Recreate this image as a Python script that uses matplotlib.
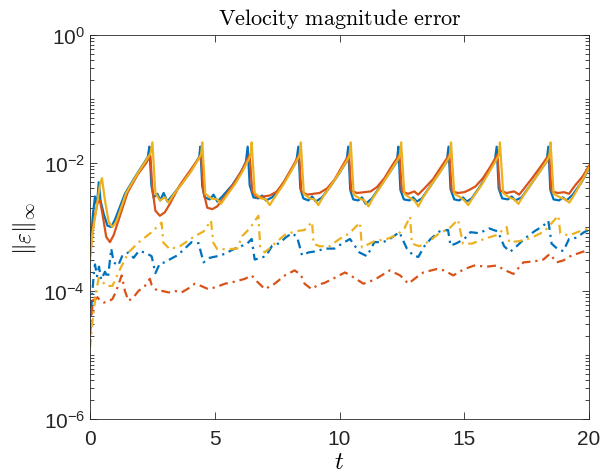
import matplotlib
matplotlib.use("Agg")
import matplotlib.pyplot as plt
import numpy as np
from matplotlib.ticker import LogLocator, FixedLocator

plt.rcParams['font.family'] = ['Liberation Sans', 'DejaVu Sans']
plt.rcParams['mathtext.fontset'] = 'custom'
plt.rcParams['mathtext.rm'] = 'Liberation Sans'
plt.rcParams['mathtext.it'] = 'Liberation Sans:italic'

# solid lines
ys_t = [0.00, 0.10, 0.25, 0.40, 0.48, 0.60, 0.75, 0.90, 1.05, 1.45, 1.85, 2.25, 2.42, 2.50,
        2.62, 2.80, 3.00, 3.15, 3.35, 3.70, 4.05, 4.35, 4.45, 4.50,
        4.62, 4.85, 5.10, 5.25, 5.45, 5.80, 6.10, 6.35, 6.43, 6.48,
        6.60, 6.85, 7.05, 7.20, 7.40, 7.75, 8.05, 8.32, 8.40, 8.45,
        8.57, 8.80, 9.00, 9.15, 9.35, 9.70, 10.05, 10.33, 10.40, 10.45,
        10.57, 10.80, 11.00, 11.16, 11.35, 11.70, 12.05, 12.35, 12.42, 12.47,
        12.60, 12.85, 13.00, 13.16, 13.35, 13.70, 14.05, 14.35, 14.42, 14.47,
        14.60, 14.85, 15.00, 15.16, 15.35, 15.70, 16.00, 16.30, 16.38, 16.43,
        16.56, 16.80, 17.00, 17.17, 17.35, 17.70, 18.05, 18.35, 18.41, 18.46,
        18.58, 18.85, 19.05, 19.21, 19.45, 19.75, 20.00]
ys_v = [3.2e-4, 8.0e-4, 1.9e-3, 4.6e-3, 5.8e-3, 2.6e-3, 1.2e-3, 1.0e-3, 1.2e-3, 3.4e-3, 6.3e-3, 1.1e-2, 1.4e-2, 2.1e-2,
        3.4e-3, 2.6e-3, 2.9e-3, 2.4e-3, 3.2e-3, 4.8e-3, 7.4e-3, 1.15e-2, 1.35e-2, 2.1e-2,
        3.3e-3, 2.8e-3, 2.7e-3, 2.3e-3, 3.0e-3, 4.6e-3, 7.2e-3, 1.12e-2, 1.3e-2, 2.1e-2,
        3.4e-3, 2.8e-3, 2.7e-3, 2.2e-3, 2.9e-3, 4.6e-3, 7.3e-3, 1.15e-2, 1.3e-2, 2.1e-2,
        3.3e-3, 2.8e-3, 2.7e-3, 2.2e-3, 3.0e-3, 4.7e-3, 7.6e-3, 1.15e-2, 1.3e-2, 2.1e-2,
        3.2e-3, 2.8e-3, 2.6e-3, 2.1e-3, 2.9e-3, 4.6e-3, 7.5e-3, 1.15e-2, 1.3e-2, 2.1e-2,
        3.3e-3, 2.8e-3, 2.6e-3, 2.1e-3, 2.9e-3, 4.7e-3, 7.4e-3, 1.15e-2, 1.3e-2, 2.1e-2,
        3.3e-3, 2.9e-3, 2.6e-3, 2.2e-3, 2.9e-3, 4.6e-3, 7.2e-3, 1.15e-2, 1.3e-2, 2.1e-2,
        3.4e-3, 2.9e-3, 2.7e-3, 2.3e-3, 3.0e-3, 4.8e-3, 7.5e-3, 1.15e-2, 1.3e-2, 2.1e-2,
        3.3e-3, 2.9e-3, 2.7e-3, 2.4e-3, 3.4e-3, 5.5e-3, 8.5e-3]

bs_t = [0.00, 0.12, 0.20, 0.28, 0.35, 0.42, 0.55, 0.70, 0.85, 1.00, 1.40, 1.80, 2.20, 2.32, 2.38,
        2.46, 2.55, 2.70, 2.82, 2.95, 3.10, 3.30, 3.65, 4.00, 4.30, 4.38, 4.42,
        4.50, 4.60, 4.80, 4.95, 5.10, 5.30, 5.70, 6.05, 6.25, 6.32,
        6.40, 6.55, 6.75, 6.90, 7.05, 7.30, 7.70, 8.00, 8.27, 8.35,
        8.43, 8.55, 8.75, 8.90, 9.05, 9.30, 9.65, 10.00, 10.28, 10.35,
        10.43, 10.55, 10.75, 10.90, 11.05, 11.30, 11.65, 12.00, 12.30, 12.36,
        12.44, 12.58, 12.80, 12.95, 13.10, 13.30, 13.65, 14.00, 14.30, 14.37,
        14.45, 14.60, 14.80, 14.95, 15.10, 15.30, 15.65, 15.95, 16.22, 16.30,
        16.38, 16.52, 16.75, 16.90, 17.05, 17.30, 17.65, 18.00, 18.30, 18.37,
        18.45, 18.58, 18.80, 18.95, 19.10, 19.35, 19.70, 20.00]
bs_v = [4.0e-4, 1.6e-3, 3.0e-3, 2.2e-3, 5.0e-3, 2.6e-3, 1.6e-3, 1.05e-3, 1.0e-3, 1.3e-3, 3.3e-3, 6.0e-3, 1.05e-2, 1.25e-2, 1.8e-2,
        4.5e-3, 2.9e-3, 3.3e-3, 2.6e-3, 3.4e-3, 2.5e-3, 3.1e-3, 4.6e-3, 7.0e-3, 1.1e-2, 1.25e-2, 1.8e-2,
        4.3e-3, 2.9e-3, 2.7e-3, 3.2e-3, 2.5e-3, 3.0e-3, 4.5e-3, 7.2e-3, 1.05e-2, 1.8e-2,
        4.5e-3, 2.9e-3, 2.8e-3, 3.1e-3, 2.6e-3, 2.9e-3, 4.5e-3, 7.0e-3, 1.05e-2, 1.8e-2,
        4.0e-3, 2.8e-3, 2.6e-3, 3.0e-3, 2.5e-3, 2.9e-3, 4.4e-3, 7.0e-3, 1.05e-2, 1.8e-2,
        3.8e-3, 2.7e-3, 2.6e-3, 2.9e-3, 2.3e-3, 2.8e-3, 4.4e-3, 7.0e-3, 1.05e-2, 1.8e-2,
        3.8e-3, 2.7e-3, 2.6e-3, 2.9e-3, 2.5e-3, 2.8e-3, 4.4e-3, 7.0e-3, 1.05e-2, 1.8e-2,
        3.9e-3, 2.7e-3, 2.6e-3, 2.9e-3, 2.5e-3, 2.8e-3, 4.4e-3, 7.0e-3, 1.05e-2, 1.8e-2,
        4.0e-3, 2.8e-3, 2.7e-3, 3.0e-3, 2.6e-3, 2.9e-3, 4.5e-3, 7.1e-3, 1.05e-2, 1.8e-2,
        3.8e-3, 2.7e-3, 2.6e-3, 2.9e-3, 2.6e-3, 3.2e-3, 5.0e-3, 8.2e-3]

rs_t = [0.00, 0.15, 0.30, 0.40, 0.50, 0.65, 0.80, 0.95, 1.15, 1.50, 1.90, 2.25, 2.42,
        2.50, 2.62, 2.80, 3.00, 3.20, 3.60, 4.00, 4.30, 4.45,
        4.55, 4.70, 4.90, 5.10, 5.40, 5.80, 6.15, 6.40,
        6.50, 6.70, 6.95, 7.20, 7.50, 7.80, 8.10, 8.38,
        8.47, 8.70, 8.95, 9.20, 9.50, 9.80, 10.10, 10.38,
        10.47, 10.70, 11.00, 11.25, 11.50, 11.80, 12.10, 12.40,
        12.50, 12.75, 13.00, 13.15, 13.40, 13.75, 14.10, 14.40,
        14.50, 14.75, 15.00, 15.20, 15.45, 15.75, 16.05, 16.33,
        16.43, 16.70, 17.00, 17.20, 17.40, 17.75, 18.10, 18.40,
        18.50, 18.75, 19.00, 19.20, 19.45, 19.75, 20.00]
rs_v = [3.5e-4, 1.2e-3, 2.4e-3, 2.6e-3, 1.6e-3, 7.0e-4, 5.8e-4, 7.5e-4, 1.3e-3, 3.4e-3, 6.5e-3, 1.0e-2, 1.3e-2,
        4.0e-3, 1.8e-3, 1.5e-3, 1.7e-3, 2.3e-3, 4.5e-3, 7.5e-3, 1.1e-2, 1.35e-2,
        3.5e-3, 2.0e-3, 1.9e-3, 2.1e-3, 3.0e-3, 5.0e-3, 8.5e-3, 1.35e-2,
        3.6e-3, 2.9e-3, 3.0e-3, 3.1e-3, 3.6e-3, 5.3e-3, 8.5e-3, 1.35e-2,
        3.6e-3, 3.2e-3, 3.3e-3, 3.4e-3, 4.0e-3, 5.5e-3, 8.8e-3, 1.35e-2,
        3.7e-3, 3.4e-3, 3.5e-3, 3.6e-3, 4.2e-3, 5.8e-3, 9.0e-3, 1.35e-2,
        3.6e-3, 3.3e-3, 3.6e-3, 3.2e-3, 4.0e-3, 5.6e-3, 9.0e-3, 1.35e-2,
        3.6e-3, 3.4e-3, 3.5e-3, 3.8e-3, 4.3e-3, 5.8e-3, 8.8e-3, 1.35e-2,
        3.7e-3, 3.4e-3, 3.6e-3, 3.2e-3, 4.0e-3, 6.0e-3, 9.2e-3, 1.35e-2,
        3.6e-3, 3.4e-3, 3.5e-3, 3.3e-3, 4.5e-3, 6.2e-3, 9.0e-3]

# dash-dot lines
yd_t = [0.00, 0.12, 0.25, 0.35, 0.50, 0.65, 0.90, 1.14, 1.54, 1.94, 2.47, 2.87,
        2.94, 3.20, 3.60, 3.90, 4.20, 4.55, 4.85,
        4.94, 5.10, 5.50, 5.90, 6.10, 6.40, 6.75,
        6.82, 7.00, 7.40, 7.80, 8.20, 8.60, 8.90,
        8.96, 9.20, 9.60, 10.00, 10.40, 10.82,
        10.90, 11.40, 11.90, 12.30, 12.60, 12.83,
        12.90, 13.20, 13.60, 14.00, 14.40, 14.75,
        14.95, 15.30, 15.80, 16.30, 16.70,
        16.80, 17.20, 17.70, 18.20, 18.77,
        18.85, 19.20, 19.60, 20.00]
yd_v = [1.3e-5, 4.0e-5, 1.0e-4, 1.6e-4, 1.4e-4, 1.2e-4, 1.2e-4, 1.95e-4, 4.0e-4, 5.7e-4, 8.3e-4, 1.17e-3,
        5.7e-4, 4.5e-4, 5.0e-4, 6.0e-4, 7.2e-4, 8.5e-4, 1.26e-3,
        5.7e-4, 4.5e-4, 4.5e-4, 4.6e-4, 7.2e-4, 9.5e-4, 1.5e-3,
        5.0e-4, 4.0e-4, 5.5e-4, 7.5e-4, 8.5e-4, 9.0e-4, 1.2e-3,
        5.5e-4, 5.0e-4, 5.0e-4, 6.5e-4, 8.0e-4, 1.17e-3,
        4.8e-4, 6.0e-4, 6.5e-4, 7.5e-4, 9.5e-4, 1.45e-3,
        5.5e-4, 5.0e-4, 6.0e-4, 8.0e-4, 9.5e-4, 1.3e-3,
        5.5e-4, 5.5e-4, 6.5e-4, 7.5e-4, 1.0e-3,
        5.8e-4, 6.0e-4, 6.8e-4, 8.5e-4, 1.5e-3,
        7.9e-4, 7.4e-4, 8.5e-4, 9.5e-4]

bd_t = [0.00, 0.08, 0.15, 0.20, 0.28, 0.36, 0.45, 0.60, 0.72, 0.85, 0.95, 1.13, 1.30, 1.54, 1.75, 1.95,
        2.20, 2.47, 2.62, 2.80, 3.00, 3.25, 3.50, 3.80, 4.07, 4.35, 4.55, 4.80, 5.10, 5.40,
        5.70, 6.05, 6.30, 6.48, 6.60, 6.85, 7.05, 7.30, 7.60, 7.85, 8.10, 8.30, 8.50, 8.75,
        9.10, 9.40, 9.80, 10.10, 10.42, 10.80, 11.10, 11.40, 11.75, 12.02, 12.40, 12.70, 12.95,
        13.16, 13.40, 13.65, 14.00, 14.35, 14.45, 14.70, 15.00, 15.25, 15.60, 16.00, 16.35,
        16.60, 16.84, 17.10, 17.40, 17.80, 18.17, 18.37, 18.50, 18.75, 18.97, 19.20, 19.50,
        19.80, 20.00]
bd_v = [2.5e-5, 8.0e-5, 1.8e-4, 2.6e-4, 1.7e-4, 2.4e-4, 1.5e-4, 2.0e-4, 1.6e-4, 4.6e-4, 2.8e-4, 2.5e-4, 3.6e-4, 4.0e-4, 3.3e-4, 4.2e-4,
        4.0e-4, 3.5e-4, 1.9e-4, 2.7e-4, 2.8e-4, 3.2e-4, 3.6e-4, 4.6e-4, 5.8e-4, 5.6e-4, 2.8e-4, 3.3e-4, 3.5e-4, 3.8e-4,
        4.4e-4, 5.0e-4, 5.5e-4, 6.5e-4, 3.1e-4, 3.3e-4, 3.5e-4, 5.1e-4, 5.6e-4, 6.9e-4, 8.0e-4, 7.0e-4, 3.6e-4, 4.0e-4,
        4.2e-4, 4.6e-4, 4.6e-4, 5.5e-4, 6.5e-4, 4.0e-4, 3.5e-4, 5.8e-4, 5.8e-4, 6.5e-4, 8.3e-4, 4.6e-4, 3.6e-4,
        3.4e-4, 5.0e-4, 6.5e-4, 8.5e-4, 9.0e-4, 5.1e-4, 5.6e-4, 6.5e-4, 8.3e-4, 8.0e-4, 9.5e-4, 8.5e-4,
        5.0e-4, 4.1e-4, 5.0e-4, 6.5e-4, 8.5e-4, 1.05e-3, 1.25e-3, 5.5e-4, 4.5e-4, 4.2e-4, 6.5e-4, 6.8e-4,
        8.3e-4, 9.0e-4]

rd_t = [0.00, 0.08, 0.15, 0.22, 0.30, 0.40, 0.55, 0.73, 0.90, 1.05, 1.27, 1.40, 1.54, 1.75, 1.94,
        2.20, 2.40, 2.47, 2.70, 2.90, 3.15, 3.40, 3.67, 3.95, 4.20, 4.45, 4.74, 5.05, 5.41,
        5.80, 6.21, 6.48, 6.70, 7.01, 7.40, 7.81, 8.20, 8.45, 8.60, 8.88, 9.15, 9.42, 9.80,
        10.22, 10.60, 10.96, 11.40, 12.02, 12.43, 12.76, 13.05, 13.36, 13.89, 14.20, 14.56,
        15.00, 15.40, 15.90, 16.30, 16.65, 16.97, 17.37, 17.80, 18.17, 18.43, 18.70, 18.97,
        19.25, 19.50, 19.91, 20.00]
rd_v = [2.0e-5, 5.0e-5, 8.5e-5, 7.4e-5, 8.0e-5, 7.1e-5, 6.6e-5, 6.8e-5, 7.5e-5, 1.0e-4, 1.75e-4, 1.0e-4, 7.0e-5, 8.0e-5, 1.0e-4,
        1.2e-4, 1.55e-4, 1.25e-4, 1.0e-4, 1.0e-4, 9.5e-5, 1.0e-4, 9.5e-5, 1.1e-4, 1.3e-4, 1.2e-4, 1.07e-4, 1.15e-4, 1.3e-4,
        1.4e-4, 1.55e-4, 1.75e-4, 1.4e-4, 1.07e-4, 1.3e-4, 1.75e-4, 2.1e-4, 1.8e-4, 1.3e-4, 1.07e-4, 1.25e-4, 1.35e-4, 1.6e-4,
        1.95e-4, 1.6e-4, 1.3e-4, 1.5e-4, 2.1e-4, 1.75e-4, 1.3e-4, 1.6e-4, 1.95e-4, 2.2e-4, 2.1e-4, 1.75e-4,
        2.2e-4, 2.5e-4, 2.4e-4, 2.5e-4, 2.1e-4, 1.85e-4, 2.8e-4, 2.9e-4, 3.1e-4, 3.8e-4, 2.8e-4, 3.0e-4,
        3.5e-4, 3.8e-4, 4.3e-4, 4.2e-4]

blue = '#0072BD'
red = '#D95319'
yellow = '#EDB120'
dashdot = (0, (4.0, 2.2, 1.0, 2.2))

fig = plt.figure(figsize=(6.10, 4.77), dpi=100)
ax = fig.add_axes([90 / 610, 57 / 477, 499 / 610, 384 / 477])

ax.plot(bs_t, bs_v, color=blue, lw=1.6)
ax.plot(rs_t, rs_v, color=red, lw=1.6)
ax.plot(ys_t, ys_v, color=yellow, lw=1.6)
ax.plot(bd_t, bd_v, color=blue, lw=1.6, linestyle=dashdot)
ax.plot(rd_t, rd_v, color=red, lw=1.6, linestyle=dashdot)
ax.plot(yd_t, yd_v, color=yellow, lw=1.6, linestyle=dashdot)

ax.set_yscale('log')
ax.set_xlim(0, 20)
ax.set_ylim(1e-6, 1e0)
ax.set_xticks([0, 5, 10, 15, 20])
ax.yaxis.set_major_locator(FixedLocator([1e-6, 1e-4, 1e-2, 1e0]))
ax.yaxis.set_minor_locator(LogLocator(base=10, subs=np.arange(1, 10), numticks=100))
ax.set_yticklabels([r'$10^{-6}$', r'$10^{-4}$', r'$10^{-2}$', r'$10^{0}$'])

ax.tick_params(which='both', direction='in', top=True, right=True, colors='#262626',
               labelsize=15, width=0.6)
ax.tick_params(which='major', length=5)
ax.tick_params(axis='x', which='major', pad=7)
ax.tick_params(which='minor', length=3, labelleft=False)
for s in ax.spines.values():
    s.set_color('#262626')
    s.set_linewidth(0.6)

ax.set_title(r'$\mathrm{Velocity\ magnitude\ error}$', math_fontfamily='cm',
             fontsize=16, color='k', pad=8)
ax.set_xlabel(r'$t$', math_fontfamily='cm', fontsize=18, labelpad=1)
ax.set_ylabel(r'$\|\varepsilon\|_\infty$', math_fontfamily='cm', fontsize=17, labelpad=4)

fig.savefig('out.png', dpi=100)
